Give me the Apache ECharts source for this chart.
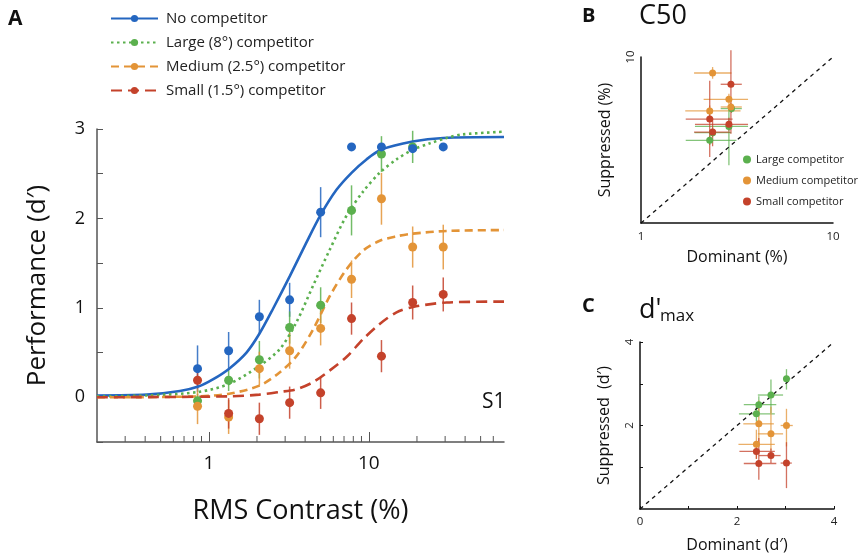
<!DOCTYPE html>
<html>
<head>
<meta charset="utf-8">
<script src="https://cdn.jsdelivr.net/npm/echarts@6/dist/echarts.min.js"></script>
<style>
  html, body { margin: 0; padding: 0; background: #fff; }
  #chart { width: 866px; height: 557px; }
</style>
</head>
<body>
<div id="chart"></div>
<script>
// contrast levels (%) used in panel A
var contrast = [0.85, 1.33, 2.07, 3.2, 5.0, 7.8, 12.0, 18.8, 29.2]

// measured d' and half error bars
var noComp = [0.32, 0.52, 0.90, 1.09, 2.07, 2.80, 2.80, 2.78, 2.80]
var noCompErr = [0.26, 0.21, 0.19, 0.19, 0.28, 0, 0, 0, 0]
var large = [-0.04, 0.19, 0.42, 0.78, 1.03, 2.09, 2.72, 2.80]
var largeErr = [0.08, 0.12, 0.21, 0.18, 0.2, 0.28, 0.2, 0.18]
var medium = [-0.10, -0.22, 0.32, 0.52, 0.77, 1.32, 2.22, 1.68, 1.68]
var mediumErr = [0.2, 0.19, 0.19, 0.2, 0.19, 0.21, 0.29, 0.23, 0.25]
var small = [0.19, -0.18, -0.24, -0.06, 0.05, 0.88, 0.46, 1.06, 1.15]
var smallErr = [0.09, 0.17, 0.18, 0.18, 0.18, 0.18, 0.18, 0.19, 0.19]

// fitted curves as [contrast, d']
var noCompCurve = [[0.2,0.02],[0.41,0.03],[0.66,0.07],[0.86,0.12],[1.06,0.20],[1.34,0.32],[1.72,0.50],[2.07,0.71],[2.52,0.99],[3.22,1.36],[4.07,1.73],[5.0,2.04],[6.28,2.32],[7.8,2.51],[9.67,2.66],[12,2.77],[18.8,2.86],[29.2,2.90],[70,2.91]]
var largeCurve = [[0.2,0.01],[0.41,0.02],[0.86,0.06],[1.34,0.15],[2.07,0.35],[2.78,0.54],[3.53,0.84],[4.49,1.25],[5.7,1.65],[7.25,2.03],[9.21,2.30],[11.7,2.51],[14.9,2.66],[18.9,2.77],[24.1,2.84],[30.6,2.90],[38.8,2.94],[70,2.97]]
var mediumCurve = [[0.2,0],[0.86,0.01],[1.34,0.04],[2.07,0.13],[2.78,0.28],[3.53,0.46],[4.49,0.76],[5.7,1.13],[7.25,1.43],[9.21,1.64],[11.7,1.75],[14.9,1.80],[18.9,1.83],[30.6,1.86],[70,1.87]]
var smallCurve = [[0.2,0],[1.34,0.01],[2.07,0.03],[2.78,0.06],[3.53,0.09],[4.49,0.17],[5.7,0.30],[7.25,0.45],[9.21,0.65],[11.7,0.82],[14.9,0.95],[18.9,1.01],[30.6,1.06],[70,1.07]]

var minorTicks = [0.3,0.4,0.5,0.6,0.7,0.8,0.9,2,3,4,5,6,7,8,9,20,30,40,50,60]

// panel B: C50 (%), [dominant, suppressed, xLo, xHi, yLo, yHi]
var c50Large = [[2.28,3.15,1.71,3.14,2.95,3.35],[2.87,3.82,1.91,3.61,2.23,4.77],[2.96,4.89,2.6,3.35,4.6,5.2],[2.36,3.5,1.9,2.95,3.3,3.75]]
var c50Medium = [[2.36,8.01,1.89,2.96,7.4,8.7],[2.87,5.56,2.12,3.61,5.2,6.0],[2.94,5.0,2.6,3.35,4.7,5.3],[2.28,4.73,1.7,3.3,4.4,5.1]]
var c50Small = [[2.94,6.85,2.6,3.35,3.45,11],[2.28,4.23,1.71,3.0,2.5,7.2],[2.87,3.93,1.91,3.61,3.6,4.3],[2.36,3.53,1.89,2.9,2.9,4.3]]

// panel C: d'max
var dLarge = [[2.40,2.28,2.04,2.78,2.1,2.45],[2.45,2.50,2.14,2.81,2.3,2.7],[2.70,2.73,2.43,2.95,2.3,3.1],[3.02,3.12,2.95,3.1,2.86,3.35]]
var dMedium = [[2.45,2.04,2.13,2.76,1.5,2.6],[3.02,2.00,2.9,3.15,1.5,2.4],[2.70,1.80,2.43,2.95,1.4,2.45],[2.40,1.55,2.03,2.78,1.2,1.9]]
var dSmall = [[2.40,1.38,2.05,2.78,1.2,1.55],[2.70,1.28,2.45,2.9,1.1,1.45],[2.45,1.09,2.14,2.81,0.7,1.7],[3.02,1.10,2.9,3.13,0.5,1.6]]

var BLUE = '#2466c0', GREEN = '#5bb04e', ORANGE = '#e39437', RED = '#c4422b'
var FONT = 'Open Sans'

var chart = echarts.init(document.getElementById('chart'))

function pts(xs, ys, errs) {
  return ys.map(function (y, i) { return [xs[i], y, errs[i]] })
}

function vErr(data, color) {
  return {
    type: 'custom', xAxisIndex: 0, yAxisIndex: 0, silent: true, z: 2, data: data,
    renderItem: function (params, api) {
      var x = api.value(0), y = api.value(1), e = api.value(2)
      if (!e) return null
      var a = api.coord([x, y - e]), b = api.coord([x, y + e])
      return { type: 'line', shape: { x1: a[0], y1: a[1], x2: b[0], y2: b[1] },
        style: { stroke: color, lineWidth: 1.5, opacity: 0.85 } }
    }
  }
}

function xyErr(data, color, gi) {
  return {
    type: 'custom', xAxisIndex: gi, yAxisIndex: gi, silent: true, z: 2, data: data,
    renderItem: function (params, api) {
      var x = api.value(0), y = api.value(1)
      var l = api.coord([api.value(2), y]), r = api.coord([api.value(3), y])
      var d = api.coord([x, api.value(4)]), u = api.coord([x, api.value(5)])
      var st = { stroke: color, lineWidth: 1.3, opacity: 0.75 }
      return { type: 'group', children: [
        { type: 'line', shape: { x1: l[0], y1: l[1], x2: r[0], y2: r[1] }, style: st },
        { type: 'line', shape: { x1: d[0], y1: d[1], x2: u[0], y2: u[1] }, style: st }
      ] }
    }
  }
}

function curve(name, data, color, dash) {
  return {
    name: name, type: 'line', data: data, smooth: 0.3, symbol: 'circle', symbolSize: 8,
    showSymbol: false, xAxisIndex: 0, yAxisIndex: 0, z: 3,
    itemStyle: { color: color },
    lineStyle: { color: color, width: 2.6, type: dash, cap: 'butt' }
  }
}

function dots(name, data, color, gi, size) {
  return {
    name: name, type: 'scatter', data: data, xAxisIndex: gi, yAxisIndex: gi,
    symbolSize: size, itemStyle: { color: color, opacity: 1 }, z: 4
  }
}

var series = [
  // minor ticks on the log contrast axis
  {
    type: 'custom', xAxisIndex: 0, yAxisIndex: 0, silent: true, data: minorTicks,
    renderItem: function (params, api) {
      var p = api.coord([api.value(0), -0.5])
      return { type: 'line', shape: { x1: p[0], y1: p[1], x2: p[0], y2: p[1] - 6 },
        style: { stroke: '#555', lineWidth: 1 } }
    }
  },
  curve('No competitor', noCompCurve, BLUE, 'solid'),
  curve('Large (8°) competitor', largeCurve, GREEN, [2.5, 3.5]),
  curve('Medium (2.5°) competitor', mediumCurve, ORANGE, [8, 5]),
  curve('Small (1.5°) competitor', smallCurve, RED, [11, 6]),
  vErr(pts(contrast, noComp, noCompErr), BLUE),
  vErr(pts(contrast, large, largeErr), GREEN),
  vErr(pts(contrast, medium, mediumErr), ORANGE),
  vErr(pts(contrast, small, smallErr), RED),
  dots('A green', pts(contrast, large, largeErr), GREEN, 0, 9),
  dots('A orange', pts(contrast, medium, mediumErr), ORANGE, 0, 9),
  dots('A red', pts(contrast, small, smallErr), RED, 0, 9),
  dots('A blue', pts(contrast, noComp, noCompErr), BLUE, 0, 9),

  // panel B
  { type: 'line', data: [[1, 1], [10, 10]], xAxisIndex: 1, yAxisIndex: 1, symbol: 'none', silent: true,
    lineStyle: { color: '#111', width: 1.3, type: [4, 4] } },
  xyErr(c50Large, GREEN, 1), xyErr(c50Medium, ORANGE, 1), xyErr(c50Small, RED, 1),
  dots('Large competitor', c50Large, GREEN, 1, 7),
  dots('Medium competitor', c50Medium, ORANGE, 1, 7),
  dots('Small competitor', c50Small, RED, 1, 7),

  // panel C
  { type: 'line', data: [[0, 0], [4, 4]], xAxisIndex: 2, yAxisIndex: 2, symbol: 'none', silent: true,
    lineStyle: { color: '#111', width: 1.3, type: [4, 4] } },
  xyErr(dLarge, GREEN, 2), xyErr(dMedium, ORANGE, 2), xyErr(dSmall, RED, 2),
  dots('Large competitor', dLarge, GREEN, 2, 7),
  dots('Medium competitor', dMedium, ORANGE, 2, 7),
  dots('Small competitor', dSmall, RED, 2, 7)
]

var axisLineDark = { show: true, onZero: false, lineStyle: { color: '#111', width: 1.5 } }
var axisLineGrey = { show: true, onZero: false, lineStyle: { color: '#555', width: 1.5 } }

chart.setOption({
  animation: false,
  textStyle: { fontFamily: FONT },
  grid: [
    { left: 97, top: 129, width: 407, height: 313 },
    { left: 641, top: 57, width: 192, height: 166 },
    { left: 640, top: 342, width: 194, height: 167 }
  ],
  legend: [
    {
      data: ['No competitor', 'Large (8°) competitor', 'Medium (2.5°) competitor', 'Small (1.5°) competitor'],
      orient: 'vertical', left: 105, top: 6, itemWidth: 47, itemHeight: 9, itemGap: 9,
      textStyle: { fontSize: 15, color: '#222', fontFamily: FONT, padding: [0, 0, 0, 3] }
    },
    {
      data: ['Large competitor', 'Medium competitor', 'Small competitor'],
      orient: 'vertical', left: 738, top: 149, itemWidth: 8, itemHeight: 8, itemGap: 10,
      icon: 'circle', textStyle: { fontSize: 11, color: '#222', fontFamily: FONT }
    }
  ],
  xAxis: [
    {
      type: 'log', logBase: 10, min: 0.2, max: 70, gridIndex: 0,
      name: 'RMS Contrast (%)', nameLocation: 'middle', nameGap: 56,
      nameTextStyle: { fontSize: 27, color: '#111', fontFamily: FONT },
      axisLine: axisLineGrey,
      axisTick: { show: true, inside: true, length: 10, lineStyle: { color: '#555' } },
      axisLabel: { fontSize: 19, color: '#111', margin: 12, showMinLabel: false, showMaxLabel: false },
      splitLine: { show: false }
    },
    {
      type: 'log', logBase: 10, min: 1, max: 10, gridIndex: 1,
      name: 'Dominant (%)', nameLocation: 'middle', nameGap: 26,
      nameTextStyle: { fontSize: 16, color: '#111', fontFamily: FONT },
      axisLine: axisLineDark, axisTick: { show: false },
      axisLabel: { fontSize: 11.5, color: '#222', margin: 8 },
      splitLine: { show: false }
    },
    {
      type: 'value', min: 0, max: 4, interval: 1, gridIndex: 2,
      name: 'Dominant (d′)', nameLocation: 'middle', nameGap: 28,
      nameTextStyle: { fontSize: 16, color: '#111', fontFamily: FONT },
      axisLine: axisLineDark,
      axisTick: { show: true, inside: true, length: 3, lineStyle: { color: '#111' } },
      axisLabel: { fontSize: 11.5, color: '#222', margin: 7,
        formatter: function (v) { return v % 2 === 0 ? v : '' } },
      splitLine: { show: false }
    }
  ],
  yAxis: [
    {
      type: 'value', min: -0.5, max: 3, interval: 0.5, gridIndex: 0,
      name: 'Performance (d′)', nameLocation: 'middle', nameGap: 46, nameRotate: 90,
      nameTextStyle: { fontSize: 26, color: '#111', fontFamily: FONT },
      axisLine: axisLineGrey,
      axisTick: { show: true, inside: true, length: 6, lineStyle: { color: '#555' } },
      axisLabel: { fontSize: 18, color: '#111', margin: 12,
        formatter: function (v) { return Number.isInteger(v) ? v : '' } },
      splitLine: { show: false }
    },
    {
      type: 'log', logBase: 10, min: 1, max: 10, gridIndex: 1,
      name: 'Suppressed (%)', nameLocation: 'middle', nameGap: 28, nameRotate: 90,
      nameTextStyle: { fontSize: 16, color: '#111', fontFamily: FONT },
      axisLine: axisLineDark, axisTick: { show: false },
      axisLabel: { fontSize: 11.5, color: '#222', margin: 4, rotate: 90, showMinLabel: false },
      splitLine: { show: false }
    },
    {
      type: 'value', min: 0, max: 4, interval: 1, gridIndex: 2,
      name: 'Suppressed  (d′)', nameLocation: 'middle', nameGap: 28, nameRotate: 90,
      nameTextStyle: { fontSize: 16, color: '#111', fontFamily: FONT },
      axisLine: axisLineDark,
      axisTick: { show: true, inside: true, length: 3, lineStyle: { color: '#111' } },
      axisLabel: { fontSize: 11.5, color: '#222', margin: 4, rotate: 90, showMinLabel: false,
        formatter: function (v) { return v % 2 === 0 ? v : '' } },
      splitLine: { show: false }
    }
  ],
  graphic: [
    { type: 'text', left: 8, top: 9, style: { text: 'A', font: 'bold 21px ' + FONT, fill: '#111' } },
    { type: 'text', left: 582, top: 6, style: { text: 'B', font: 'bold 20px ' + FONT, fill: '#111' } },
    { type: 'text', left: 582, top: 296, style: { text: 'C', font: 'bold 20px ' + FONT, fill: '#111' } },
    { type: 'text', left: 639, top: 3, style: { text: 'C50', font: '27px ' + FONT, fill: '#111' } },
    { type: 'text', left: 639, top: 297, style: { text: "d'", font: '27px ' + FONT, fill: '#111' } },
    { type: 'text', left: 660, top: 308, style: { text: 'max', font: '17px ' + FONT, fill: '#111' } },
    { type: 'text', left: 482, top: 392, style: { text: 'S1', font: '21px ' + FONT, fill: '#111' } }
  ],
  series: series
})
</script>
</body>
</html>
